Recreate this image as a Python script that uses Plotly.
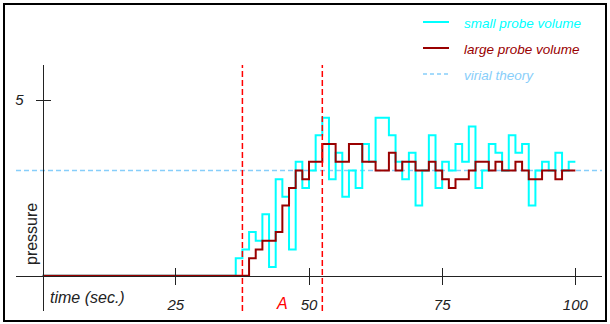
import plotly.graph_objects as go

# ---------------- data ----------------
BIN_WIDTH = 1.25  # seconds per histogram bin
small_probe = [0.0] * 29 + [
    0.5, 0.75, 1.25, 1.0, 1.75, 0.25, 2.75, 2.25, 0.75, 3.25,
    2.5, 3.0, 4.0, 4.5, 2.75, 3.5, 2.25, 3.0, 2.5, 3.75,
    3.25, 4.5, 4.5, 4.0, 3.25, 2.75, 3.5, 2.0, 3.0, 4.0,
    2.5, 3.25, 3.0, 3.75, 3.25, 4.25, 2.5, 3.0, 3.75, 3.5,
    3.0, 4.0, 3.5, 3.75, 2.0, 3.0, 3.25, 3.0, 3.5, 3.0, 3.25]
large_probe = [0.0] * 31 + [
    0.5, 0.75, 1.0, 1.0, 1.25, 2.0, 2.5, 3.0, 2.75,
    3.25, 3.25, 3.75, 3.75, 3.25, 3.25, 3.75, 3.75, 3.25, 3.25,
    3.0, 3.0, 3.5, 3.0, 3.25, 3.25, 3.0, 3.0, 3.25, 3.0,
    2.75, 2.5, 2.75, 2.75, 3.0, 3.25, 3.25, 3.0, 3.25, 3.0,
    3.0, 3.25, 3.0, 2.75, 2.75, 3.0, 3.0, 2.75, 3.0, 3.0]
virial_theory = 3.0
event_lines = [37.5, 52.5]
event_label = ("A", 45)
x_ticks = [25, 50, 75, 100]
x_tick_labels = ["25", "50", "75", "100"]
y_ticks = [5]
y_tick_labels = ["5"]

edges = [i * BIN_WIDTH for i in range(len(small_probe) + 1)]

# ---------------- layout helpers (pixel -> paper) ----------------
W, H = 610, 324
PL, PR, PT, PB = 16, 602, 65, 311
def px(x):
    return (x - PL) / (PR - PL)
def py(y):
    return (PB - y) / (PB - PT)

FONT = "Liberation Sans, Arial, sans-serif"
C_SMALL = "#00FFFF"
C_LARGE = "#990000"
C_VIRIAL = "#87CEFA"
C_EVENT = "#FF0000"
C_AXIS = "#222222"

fig = go.Figure()
fig.add_trace(go.Scatter(
    x=[edges[0] - 5, edges[-1] + 5], y=[virial_theory, virial_theory],
    mode="lines", line=dict(color=C_VIRIAL, width=1.5, dash="5px,3px"),
    showlegend=False, hoverinfo="skip"))
fig.add_trace(go.Scatter(
    x=edges, y=small_probe + [small_probe[-1]], mode="lines",
    line=dict(color=C_SMALL, width=2, shape="hv"), showlegend=False))
fig.add_trace(go.Scatter(
    x=edges, y=large_probe + [large_probe[-1]], mode="lines",
    line=dict(color=C_LARGE, width=2, shape="hv"), showlegend=False))
# empty trace to create the overlay axes carrying inward ticks
fig.add_trace(go.Scatter(x=[], y=[], xaxis="x2", yaxis="y2", showlegend=False))

X_RANGE = [-5, 105]
Y_RANGE = [-1, 6]
x_pos = (0 - Y_RANGE[0]) / (Y_RANGE[1] - Y_RANGE[0])
y_pos = (0 - X_RANGE[0]) / (X_RANGE[1] - X_RANGE[0])

tickfont = dict(family=FONT, size=15, color=C_AXIS)
common_x = dict(range=X_RANGE, anchor="free", position=x_pos, showgrid=False,
                zeroline=False, tickvals=x_ticks, ticklen=8, tickwidth=1.2,
                tickcolor=C_AXIS)
common_y = dict(range=Y_RANGE, anchor="free", position=y_pos, showgrid=False,
                zeroline=False, tickvals=y_ticks, ticklen=7, tickwidth=1.2,
                tickcolor=C_AXIS)

shapes = []
for xv in event_lines:
    shapes.append(dict(type="line", xref="x", yref="paper", x0=xv, x1=xv, y0=0, y1=1,
                       line=dict(color=C_EVENT, width=1.5, dash="6px,3px"), layer="above"))
# outer frame
shapes.append(dict(type="rect", xref="paper", yref="paper",
                   x0=px(4), x1=px(606), y0=py(321), y1=py(4),
                   line=dict(color="black", width=2)))
# legend samples
shapes.append(dict(type="line", xref="paper", yref="paper", x0=px(423), x1=px(449),
                   y0=py(22), y1=py(22), line=dict(color=C_SMALL, width=2)))
shapes.append(dict(type="line", xref="paper", yref="paper", x0=px(423), x1=px(449),
                   y0=py(48), y1=py(48), line=dict(color=C_LARGE, width=2)))
shapes.append(dict(type="line", xref="paper", yref="paper", x0=px(423), x1=px(449),
                   y0=py(74), y1=py(74), line=dict(color=C_VIRIAL, width=1.5, dash="4px,3px")))

def legend_font(c):
    return dict(family=FONT, size=13.5, color=c)

annotations = [
    dict(text="<i>small probe volume</i>", xref="paper", yref="paper", x=px(462), y=py(24),
         xanchor="left", yanchor="middle", showarrow=False, font=legend_font(C_SMALL)),
    dict(text="<i>large probe volume</i>", xref="paper", yref="paper", x=px(462), y=py(50),
         xanchor="left", yanchor="middle", showarrow=False, font=legend_font(C_LARGE)),
    dict(text="<i>virial theory</i>", xref="paper", yref="paper", x=px(462), y=py(76),
         xanchor="left", yanchor="middle", showarrow=False, font=legend_font(C_VIRIAL)),
    dict(text="<i>time (sec.)</i>", xref="paper", yref="paper", x=px(87), y=py(297),
         xanchor="center", yanchor="middle", showarrow=False,
         font=dict(family=FONT, size=16, color=C_AXIS)),
    dict(text="pressure", xref="paper", yref="paper", x=px(31), y=py(234),
         xanchor="center", yanchor="middle", textangle=-90, showarrow=False,
         font=dict(family=FONT, size=16, color=C_AXIS)),
    dict(text="<i>%s</i>" % event_label[0], xref="x", yref="paper", x=event_label[1], y=py(303),
         xanchor="center", yanchor="middle", showarrow=False,
         font=dict(family=FONT, size=16, color=C_EVENT)),
]

fig.update_layout(
    width=W, height=H,
    margin=dict(l=PL, r=W - PR, t=PT, b=H - PB, pad=0),
    paper_bgcolor="white", plot_bgcolor="white",
    showlegend=False,
    xaxis=dict(**common_x, showline=True, linecolor=C_AXIS, linewidth=1.2,
               ticks="outside", ticktext=["<i>%s</i>" % t for t in x_tick_labels],
               tickfont=tickfont, ticklabelstandoff=7),
    xaxis2=dict(**common_x, overlaying="x", ticks="inside", showticklabels=False,
                showline=False),
    yaxis=dict(**common_y, showline=True, linecolor=C_AXIS, linewidth=1.2,
               ticks="outside", ticktext=["<i>%s</i>" % t for t in y_tick_labels],
               tickfont=tickfont, ticklabelstandoff=9),
    yaxis2=dict(**common_y, overlaying="y", ticks="inside", showticklabels=False,
                showline=False),
    shapes=shapes,
    annotations=annotations,
)

fig.write_html("out.html", config={"displayModeBar": False},
               post_script="document.body.style.margin='0';document.body.style.padding='0';")
